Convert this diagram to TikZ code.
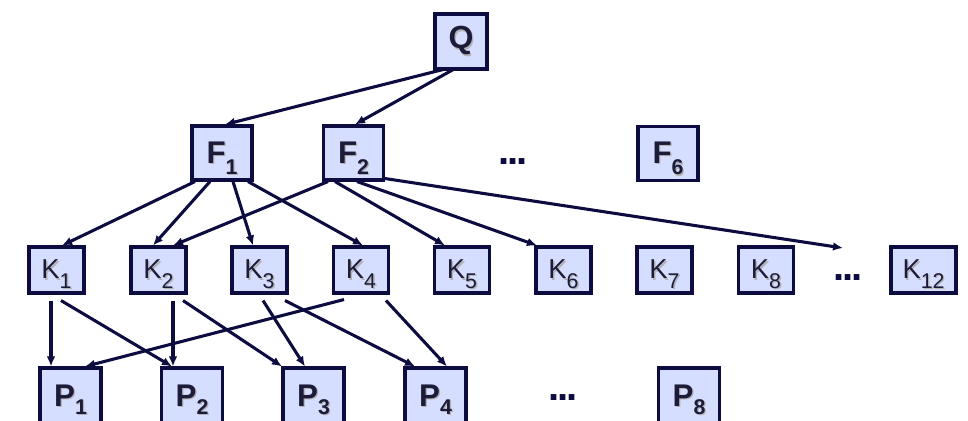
\documentclass[tikz,border=0pt]{standalone}
\usepackage{fontspec}
\setmainfont{Liberation Sans}
\usetikzlibrary{arrows.meta,calc}
\definecolor{boxfill}{RGB}{214,222,255}
\definecolor{navy}{RGB}{12,12,64}
\definecolor{txt}{RGB}{28,28,58}
\newcommand\mysub[2][16]{\raisebox{-0.36em}[0pt][0pt]{\fontsize{#1}{#1}\selectfont #2}}
\newcommand\psub[1]{\raisebox{-0.27em}[0pt][0pt]{\fontsize{16}{16}\selectfont #1}}
\newcommand\shd[1]{\makebox[0pt][l]{\hspace{1pt}\raisebox{-1pt}{\color{black!30}#1}}#1}
\newcommand\mydots{.\kern-1.6pt.\kern-1.6pt.}
\tikzset{
  box/.style={draw=navy, line width=2.3pt, fill=boxfill, inner sep=0pt, text=txt},
  qbox/.style={box, minimum width=39pt, minimum height=41.25pt, font=\fontsize{24}{24}\selectfont\bfseries},
  fbox/.style={box, minimum width=45pt, minimum height=40.5pt, font=\fontsize{23.5}{23.5}\selectfont\bfseries},
  kbox/.style={box, minimum width=41.25pt, minimum height=34.5pt, font=\fontsize{20.5}{20.5}\selectfont},
  pbox/.style={box, minimum width=45.75pt, minimum height=42pt, font=\fontsize{23.5}{23.5}\selectfont\bfseries},
  dots/.style={inner sep=0pt, text=navy, font=\fontsize{30}{30}\selectfont\bfseries},
  arr/.style={draw=navy, line width=2.3pt, -{Latex[length=7.5pt,width=6.5pt]}}
}
\begin{document}
\begin{tikzpicture}[x=0.75pt,y=-0.75pt]
\useasboundingbox (0,0) rectangle (968,421);
\clip (0,0) rectangle (968,421);
% top
\node[qbox] (Q) at (461,41.5) {\shd{Q}};
% F row
\node[fbox] (F1) at (222,153) {\shd{F\mysub{1}}};
\node[fbox] (F2) at (353.5,153) {\shd{F\mysub{2}}};
\node[dots] (Fd) at (513,162) {\mydots};
\node[fbox] (F6) at (668,153.5) {\shd{F\mysub{6}}};
% K row
\node[kbox] (K1) at (56.5,270) {\shd{K\mysub[16]{1}}};
\node[kbox] (K2) at (158.5,270) {\shd{K\mysub[16]{2}}};
\node[kbox] (K3) at (259.5,270) {\shd{K\mysub[16]{3}}};
\node[kbox] (K4) at (361,270) {\shd{K\mysub[16]{4}}};
\node[kbox] (K5) at (462,270) {\shd{K\mysub[16]{5}}};
\node[kbox] (K6) at (563.5,270) {\shd{K\mysub[16]{6}}};
\node[kbox] (K7) at (664.5,270) {\shd{K\mysub[16]{7}}};
\node[kbox] (K8) at (766,270) {\shd{K\mysub[16]{8}}};
\node[dots] (Kd) at (848,278) {\mydots};
\node[kbox, minimum width=48.75pt] (K12) at (923.5,270) {\shd{K\mysub[16]{12}}};
\coordinate (kend) at (843,248);
% P row
\node[pbox] (P1) at (70.5,396) {\shd{P\psub{1}}};
\node[pbox] (P2) at (192,396) {\shd{P\psub{2}}};
\node[pbox] (P3) at (313.5,396) {\shd{P\psub{3}}};
\node[pbox] (P4) at (435.5,396) {\shd{P\psub{4}}};
\node[dots] (Pd) at (563,398) {\mydots};
\node[pbox] (P8) at (689,396) {\shd{P\psub{8}}};
% Q -> F
\draw[arr] ($(Q.south)+(-14,-2)$) -- ($(F1.north)+(3,0)$);
\draw[arr] ($(Q.south)+(-6,-2)$) -- ($(F2.north)+(1.5,0)$);
% F1 -> K
\draw[arr] ($(F1.south)+(-27,0)$) -- ($(K1.north)+(5.5,0)$);
\draw[arr] ($(F1.south)+(-12,0)$) -- ($(K2.north)+(-5.5,0)$);
\draw[arr] ($(F1.south)+(11,0)$) -- ($(K3.north)+(-6.5,0)$);
\draw[arr] ($(F1.south)+(26,0)$) -- ($(K4.north)+(2,0)$);
% F2 -> K
\draw[arr] ($(F2.south)+(-25.5,0)$) -- ($(K2.north)+(14.5,0)$);
\draw[arr] ($(F2.south)+(-18.5,0)$) -- ($(K5.north)+(-17,0)$);
\draw[arr] ($(F2.south)+(3.5,0)$) -- ($(K6.north)+(-26.5,0)$);
\draw[arr] ($(F2.south east)+(0,-3)$) -- (kend);
% K -> P
\draw[arr] ($(K1.south)+(-5.5,6)$) -- ($(P1.north)+(-19.5,0)$);
\draw[arr] ($(K1.south)+(4.5,6)$) -- ($(P2.north)+(-20,0)$);
\draw[arr] ($(K2.south)+(14.5,6)$) -- ($(P2.north)+(-19,0)$);
\draw[arr] ($(K2.south)+(24.5,6)$) -- ($(P3.north)+(-31.5,0)$);
\draw[arr] ($(K3.south)+(3.5,6)$) -- ($(P3.north)+(-8.5,0)$);
\draw[arr] ($(K3.south)+(25.5,6)$) -- ($(P4.north)+(-20.5,0)$);
\draw[arr] ($(K4.south)+(-17,5)$) -- ($(P1.north)+(14.5,0)$);
\draw[arr] ($(K4.south)+(25,6)$) -- ($(P4.north)+(11.5,0)$);
\end{tikzpicture}
\end{document}
